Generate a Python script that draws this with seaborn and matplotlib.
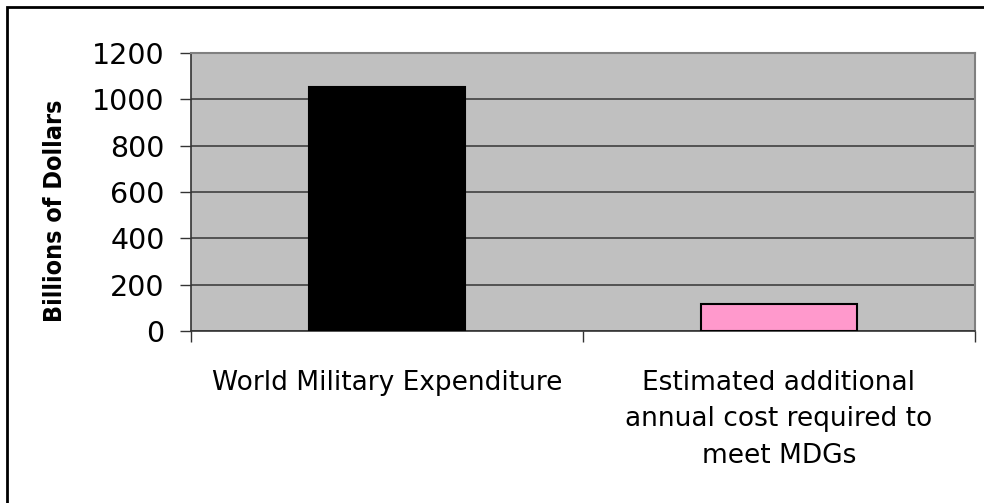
import matplotlib
matplotlib.use("Agg")
import matplotlib.pyplot as plt
import seaborn as sns
import pandas as pd
from matplotlib.patches import Rectangle

categories = ["World Military Expenditure",
              "Estimated additional\nannual cost required to\nmeet MDGs"]
values = [1053, 118]
bar_colors = ["#000000", "#FF99CC"]
y_ticks = [0, 200, 400, 600, 800, 1000, 1200]
y_label = "Billions of Dollars"

sns.set_theme(style="white")
plt.rcParams['font.family'] = ['DejaVu Sans']
plt.rcParams['text.color'] = 'black'
plt.rcParams['xtick.color'] = 'black'
plt.rcParams['ytick.color'] = 'black'

fig = plt.figure(figsize=(9.84, 5.03), dpi=100)
ax = fig.add_axes([191/984, 1-331/503, (975-191)/984, (331-53)/503])

df = pd.DataFrame({"cat": categories, "val": values})
sns.barplot(data=df, x="cat", y="val", hue="cat", palette=bar_colors,
            width=0.40, edgecolor="black", linewidth=1.5, legend=False,
            saturation=1, ax=ax, zorder=3)

ax.set_facecolor("#C0C0C0")
ax.set_ylim(0, 1200)
ax.set_xlim(-0.5, 1.5)
ax.set_yticks(y_ticks)
ax.set_yticklabels([str(t) for t in y_ticks], fontsize=20.5, color="black")
ax.yaxis.grid(True, color="#404040", linewidth=1.2, zorder=1)
ax.set_axisbelow(True)

ax.set_xticks([0, 1])
ax.set_xticklabels(categories, fontsize=19, linespacing=1.52, color="black")
ax.tick_params(axis="x", which="major", length=0, pad=28)
ax.set_xticks([-0.5, 0.5, 1.5], minor=True)
ax.tick_params(axis="x", which="minor", length=8, width=1, color="#333333", direction="out", bottom=True)
ax.tick_params(axis="y", length=8, width=1, color="#333333", direction="out", left=True, pad=11)
ax.set_xlabel("")
ax.set_ylabel("")

for side in ["left", "bottom"]:
    ax.spines[side].set_color("#333333")
    ax.spines[side].set_linewidth(1.2)
for side in ["top", "right"]:
    ax.spines[side].set_color("#808080")
    ax.spines[side].set_linewidth(1.5)

fig.text(55/984, 1-211/503, y_label, rotation=90, ha="center", va="center",
         fontsize=18, fontweight="bold", fontstretch="condensed", color="black")

fig.patches.append(Rectangle((7/984, -0.1), 1.1, 1-7/503+0.1, transform=fig.transFigure,
                             fill=False, edgecolor="black", linewidth=2))

fig.savefig("out.png", dpi=100)
